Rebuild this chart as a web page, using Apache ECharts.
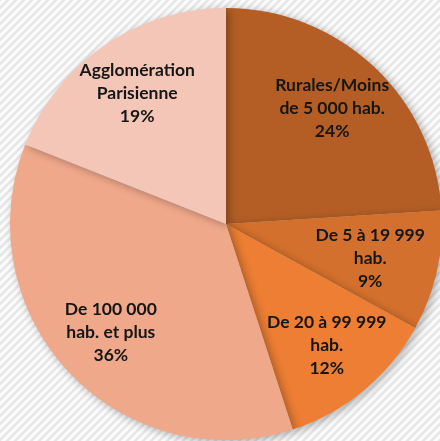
<!DOCTYPE html>
<html><head><meta charset="utf-8">
<script src="https://cdn.jsdelivr.net/npm/echarts@6/dist/echarts.min.js"></script>
<style>html,body{margin:0;padding:0;background:#fff}#c{width:440px;height:441px}</style>
</head><body><div id="c"></div>
<script>
const categories = ["Rurales/Moins\nde 5 000 hab.", "De 5 à 19 999\nhab.", "De 20 à 99 999\nhab.", "De 100 000\nhab. et plus", "Agglomération\nParisienne"];
const values = [24, 9, 12, 36, 19];
const colors = ["#B45E25", "#D4702D", "#ED7E33", "#F0A88A", "#F4C6B8"];

// striped background pattern
const pc = document.createElement('canvas');
pc.width = 8; pc.height = 8;
const g = pc.getContext('2d');
g.fillStyle = '#fbfbfb'; g.fillRect(0,0,8,8);
g.strokeStyle = '#e6e6e6'; g.lineWidth = 2.5;
g.beginPath();
g.moveTo(-2,10); g.lineTo(10,-2);
g.moveTo(-2,2); g.lineTo(2,-2);
g.moveTo(6,10); g.lineTo(10,6);
g.stroke();

const labelShift = [[-2,0],[-10,0],[0,0],[0,0],[0,0]];
const data = categories.map((n,i)=>({name:n, value:values[i], itemStyle:{color:colors[i]}}));
const chart = echarts.init(document.getElementById('c'));
const font = {fontFamily:'Lato', fontWeight:'bold', fontSize:17.5, color:'#161616', lineHeight:23, align:'center'};
chart.setOption({
  backgroundColor: {image: pc, repeat: 'repeat'},
  animation:false,
  series:[
    {type:'pie', center:[226,224], radius:[0,216], startAngle:90, clockwise:true,
     silent:true, label:{show:false}, labelLine:{show:false},
     itemStyle:{shadowBlur:8, shadowColor:'rgba(0,0,0,0.3)', shadowOffsetX:3, shadowOffsetY:2},
     data:data},
    {type:'pie', center:[226,224], radius:[0,310], startAngle:90, clockwise:true,
     silent:true, labelLine:{show:false},
     itemStyle:{color:'rgba(0,0,0,0)'},
     labelLayout:p=>({dx:labelShift[p.dataIndex][0], dy:labelShift[p.dataIndex][1]}),
     label:Object.assign({show:true, position:'inside', formatter:p=>p.name+'\n'+p.value+'%'}, font),
     data:categories.map((n,i)=>({name:n, value:values[i], itemStyle:{color:'rgba(0,0,0,0)'}}))}
  ]
});
</script></body></html>
